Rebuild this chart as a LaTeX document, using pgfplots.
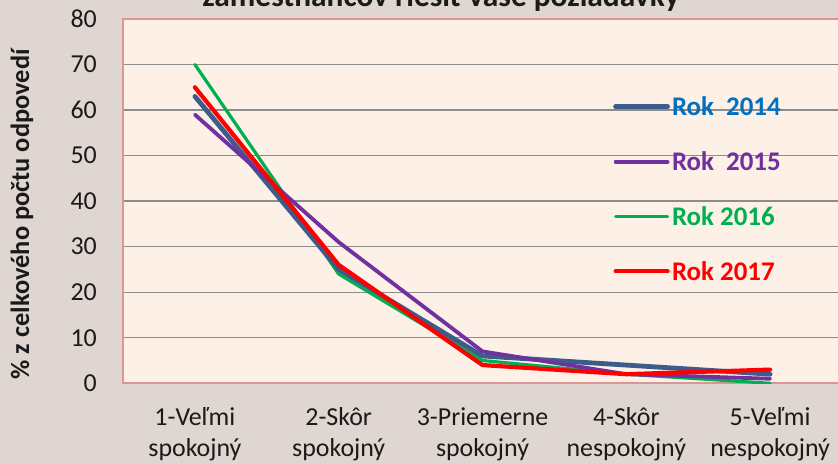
\documentclass[border=0pt]{standalone}
\usepackage{pgfplots}
\pgfplotsset{compat=1.18}
\usepackage{fontspec}
\setmainfont{Carlito}
\definecolor{bgout}{HTML}{DFD5D1}
\definecolor{bgplot}{HTML}{FDF0E7}
\definecolor{framec}{HTML}{D99694}
\definecolor{gridc}{HTML}{8C8C8C}
\definecolor{c14}{HTML}{3C5D8C}
\definecolor{t14}{HTML}{0070C0}
\definecolor{c15}{HTML}{7030A0}
\definecolor{c16}{HTML}{00B050}
\definecolor{c17}{HTML}{FF0000}
\definecolor{txt}{HTML}{1A1A1A}

\pgfplotstableread{
x y14 y15 y16 y17
0 63 59 70 65
1 25 31 24 26
2 6 7 5 4
3 4 2 2 2
4 2 1 0 3
}\datatable

\begin{document}
\begin{tikzpicture}[x=1bp,y=1bp]
\path[use as bounding box, fill=bgout] (0,0) rectangle (838,464);
\node[anchor=base, font=\bfseries\fontsize{31.5}{36}\selectfont, text=txt] at (441,457) {zamestnancov riešiť vaše požiadavky};
\begin{axis}[
  anchor=south west, at={(123bp,80.7bp)},
  scale only axis, width=719bp, height=364.3bp,
  xmin=-0.5, xmax=4.5, ymin=0, ymax=80,
  axis background/.style={fill=bgplot},
  axis line style={draw=framec, line width=2bp},
  ytick={0,10,...,80},
  ymajorgrids, grid style={gridc, line width=1.3bp},
  xtick={0,1,2,3,4},
  xticklabels={{1-Veľmi\\spokojný},{2-Skôr\\spokojný},{3-Priemerne\\spokojný},{4-Skôr\\nespokojný},{5-Veľmi\\nespokojný}},
  major tick length=0pt,
  /pgf/number format/assume math mode=true,
  tick label style={font=\fontsize{26}{31}\selectfont, text=txt},
  yticklabel style={anchor=east, inner sep=0pt, xshift=-26bp},
  xticklabel style={align=center, anchor=north, inner sep=0pt, yshift=-24bp},
  ylabel={\% z celkového počtu odpovedí},
  ylabel style={at={(axis description cs:-0.1405,0.464)}, anchor=center, font=\bfseries\fontsize{26.5}{30}\selectfont, text=txt},
  legend style={at={(axis description cs:0.6815,0.793)}, anchor=north west, draw=none, fill=none,
    font=\bfseries\fontsize{27}{31}\selectfont, row sep=30.5bp, inner sep=0pt},
  legend cell align=left,
  legend image code/.code={\draw[#1, line cap=round] (0bp,0bp) -- (52bp,0bp);},
]
\addplot[c16, line width=3.2bp, line join=round, line cap=round, forget plot] table[x=x, y=y16] {\datatable};
\addplot[c14, line width=4.8bp, line join=round, line cap=round, forget plot] table[x=x, y=y14] {\datatable};
\addplot[c15, line width=3.8bp, line join=round, line cap=round, forget plot] table[x=x, y=y15] {\datatable};
\addplot[c17, line width=4.2bp, line join=round, line cap=round, forget plot] table[x=x, y=y17] {\datatable};
\addlegendimage{c14, line width=4.8bp}
\addlegendentry{\textcolor{t14}{Rok\ \ 2014}}
\addlegendimage{c15, line width=3.8bp}
\addlegendentry{\textcolor{c15}{Rok\ \ 2015}}
\addlegendimage{c16, line width=3.2bp}
\addlegendentry{\textcolor{c16}{Rok 2016}}
\addlegendimage{c17, line width=4.2bp}
\addlegendentry{\textcolor{c17}{Rok 2017}}
\end{axis}
\end{tikzpicture}
\end{document}
